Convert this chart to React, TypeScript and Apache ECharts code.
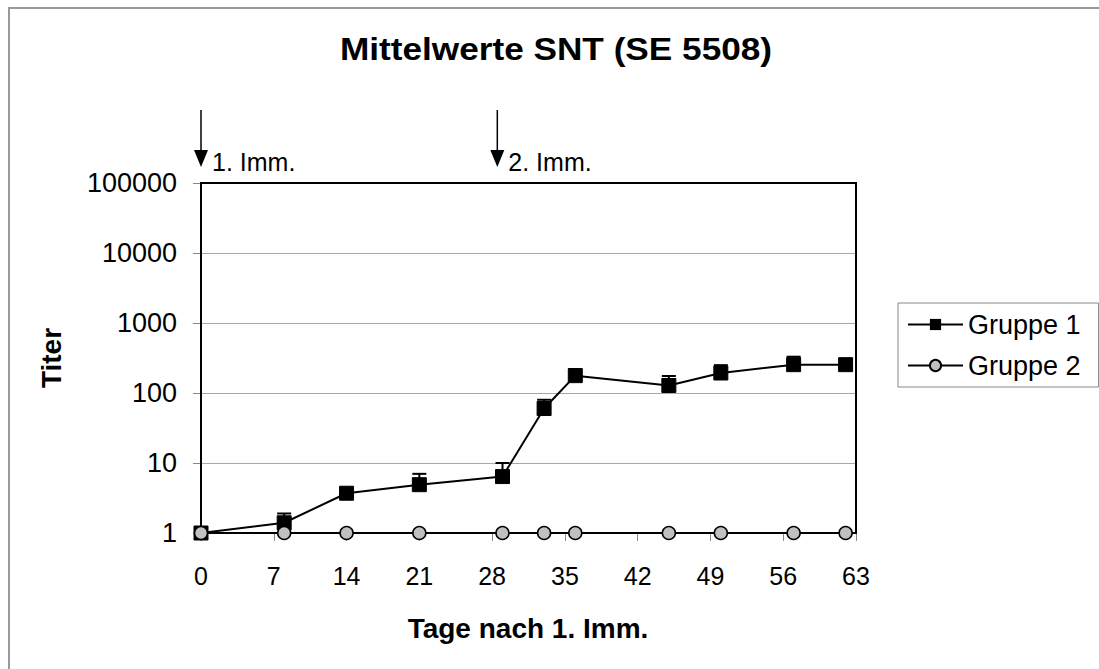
import React, { useEffect, useRef } from "react";
import * as echarts from "echarts";

const days = [0, 8, 14, 21, 29, 33, 36, 45, 50, 57, 62];
const gruppe1 = [1, 1.4, 3.7, 4.9, 6.4, 60, 177, 128, 193, 254, 254];
const gruppe1Upper = [1, 1.9, 4.4, 7.0, 10, 80, 220, 175, 250, 330, 280];
const gruppe2 = [1, 1, 1, 1, 1, 1, 1, 1, 1, 1, 1];
const xTicks = [0, 7, 14, 21, 28, 35, 42, 49, 56, 63];
const yTicks = [1, 10, 100, 1000, 10000, 100000];
const immunizations = [
  { day: 0, label: "1. Imm." },
  { day: 28.5, label: "2. Imm." },
];

const FONT = "'Liberation Sans', Arial, sans-serif";

export default function App() {
  const ref = useRef<HTMLDivElement>(null);
  useEffect(() => {
    if (!ref.current) return;
    const chart = echarts.init(ref.current, undefined, { renderer: "svg" });
    const gridLeft = 201;
    const gridTop = 183;
    const gridW = 655;
    const gridH = 350;
    const option: any = {
      animation: false,
      backgroundColor: "#ffffff",
      textStyle: { fontFamily: FONT },
      grid: { left: gridLeft, top: gridTop, width: gridW, height: gridH },
      xAxis: {
        type: "value",
        min: xTicks[0],
        max: xTicks[xTicks.length - 1],
        interval: 7,
        axisLine: { show: true, onZero: false, lineStyle: { color: "#000", width: 2 } },
        axisTick: { show: true, length: 8, lineStyle: { color: "#888", width: 1 } },
        axisLabel: { fontSize: 25, color: "#000", margin: 30, fontFamily: FONT },
        splitLine: { show: false },
      },
      yAxis: {
        type: "log",
        logBase: 10,
        min: yTicks[0],
        max: yTicks[yTicks.length - 1],
        axisLine: { show: true, lineStyle: { color: "#000", width: 2 } },
        axisTick: { show: true, length: 8, lineStyle: { color: "#888", width: 1 } },
        axisLabel: {
          fontSize: 27,
          color: "#000",
          margin: 24,
          fontFamily: FONT,
          formatter: (v: number) => String(Math.round(v)),
        },
        splitLine: { show: true, lineStyle: { color: "#a8a8a8", width: 1 } },
      },
      legend: {
        orient: "vertical",
        left: 898,
        top: 303,
        itemWidth: 55,
        itemHeight: 14,
        itemGap: 14,
        padding: [8, 18, 8, 9],
        borderColor: "#888",
        borderWidth: 1,
        textStyle: { fontSize: 27, color: "#000", fontFamily: FONT },
        data: ["Gruppe 1", "Gruppe 2"],
      },
      series: [
        {
          type: "custom",
          name: "err",
          z: 3,
          data: days.map((d, i) => [d, gruppe1[i], gruppe1Upper[i]]),
          encode: { x: 0, y: [1, 2] },
          renderItem: (params: any, api: any) => {
            const x = api.value(0);
            const lo = api.coord([x, api.value(1)]);
            const hi = api.coord([x, api.value(2)]);
            if (Math.abs(lo[1] - hi[1]) < 1) return { type: "group", children: [] };
            const style = { stroke: "#000", lineWidth: 2 };
            return {
              type: "group",
              children: [
                { type: "line", shape: { x1: lo[0], y1: lo[1], x2: hi[0], y2: hi[1] }, style },
                { type: "line", shape: { x1: hi[0] - 7, y1: hi[1], x2: hi[0] + 7, y2: hi[1] }, style },
              ],
            };
          },
        },
        {
          type: "line",
          name: "Gruppe 1",
          z: 4,
          data: days.map((d, i) => [d, gruppe1[i]]),
          symbol: "rect",
          symbolSize: 14,
          itemStyle: { color: "#000", borderColor: "#000" },
          lineStyle: { color: "#000", width: 2 },
        },
        {
          type: "line",
          name: "Gruppe 2",
          z: 5,
          data: days.map((d, i) => [d, gruppe2[i]]),
          symbol: "circle",
          symbolSize: 13,
          itemStyle: { color: "#c0c0c0", borderColor: "#000", borderWidth: 1.5 },
          lineStyle: { color: "#000", width: 2 },
        },
      ],
    };
    chart.setOption(option);

    const graphics: any[] = [
      {
        type: "rect",
        shape: { x: 9, y: 8, width: 1200, height: 800 },
        style: { fill: "none", stroke: "#999", lineWidth: 2 },
        silent: true,
        z: -1,
      },
      {
        type: "rect",
        shape: { x: gridLeft, y: gridTop, width: gridW, height: gridH },
        style: { fill: "none", stroke: "#000", lineWidth: 2 },
        silent: true,
        z: 1,
      },
      {
        type: "text",
        x: 556,
        y: 49,
        scaleX: 1.1,
        style: {
          text: "Mittelwerte SNT (SE 5508)",
          font: `bold 32px ${FONT}`,
          fill: "#000",
          textAlign: "center",
          textVerticalAlign: "middle",
        },
      },
      {
        type: "text",
        x: 51,
        y: 358,
        rotation: Math.PI / 2,
        style: {
          text: "Titer",
          font: `bold 28px ${FONT}`,
          fill: "#000",
          textAlign: "center",
          textVerticalAlign: "middle",
        },
      },
      {
        type: "text",
        x: 528,
        y: 628,
        style: {
          text: "Tage nach 1. Imm.",
          font: `bold 28px ${FONT}`,
          fill: "#000",
          textAlign: "center",
          textVerticalAlign: "middle",
        },
      },
    ];
    immunizations.forEach((imm) => {
      const px = chart.convertToPixel({ xAxisIndex: 0 }, imm.day) as number;
      graphics.push(
        {
          type: "line",
          shape: { x1: px, y1: 110, x2: px, y2: 152 },
          style: { stroke: "#000", lineWidth: 1.5 },
        },
        {
          type: "polygon",
          shape: { points: [[px - 7, 150], [px + 7, 150], [px, 167]] },
          style: { fill: "#000" },
        },
        {
          type: "text",
          x: px + 11,
          y: 162,
          style: {
            text: imm.label,
            font: `25px ${FONT}`,
            fill: "#000",
            textAlign: "left",
            textVerticalAlign: "middle",
          },
        }
      );
    });
    chart.setOption({ graphic: graphics });
    return () => chart.dispose();
  }, []);
  return (
    <div
      ref={ref}
      style={{ position: "fixed", left: 0, top: 0, width: 1099, height: 669, background: "#fff" }}
    />
  );
}
